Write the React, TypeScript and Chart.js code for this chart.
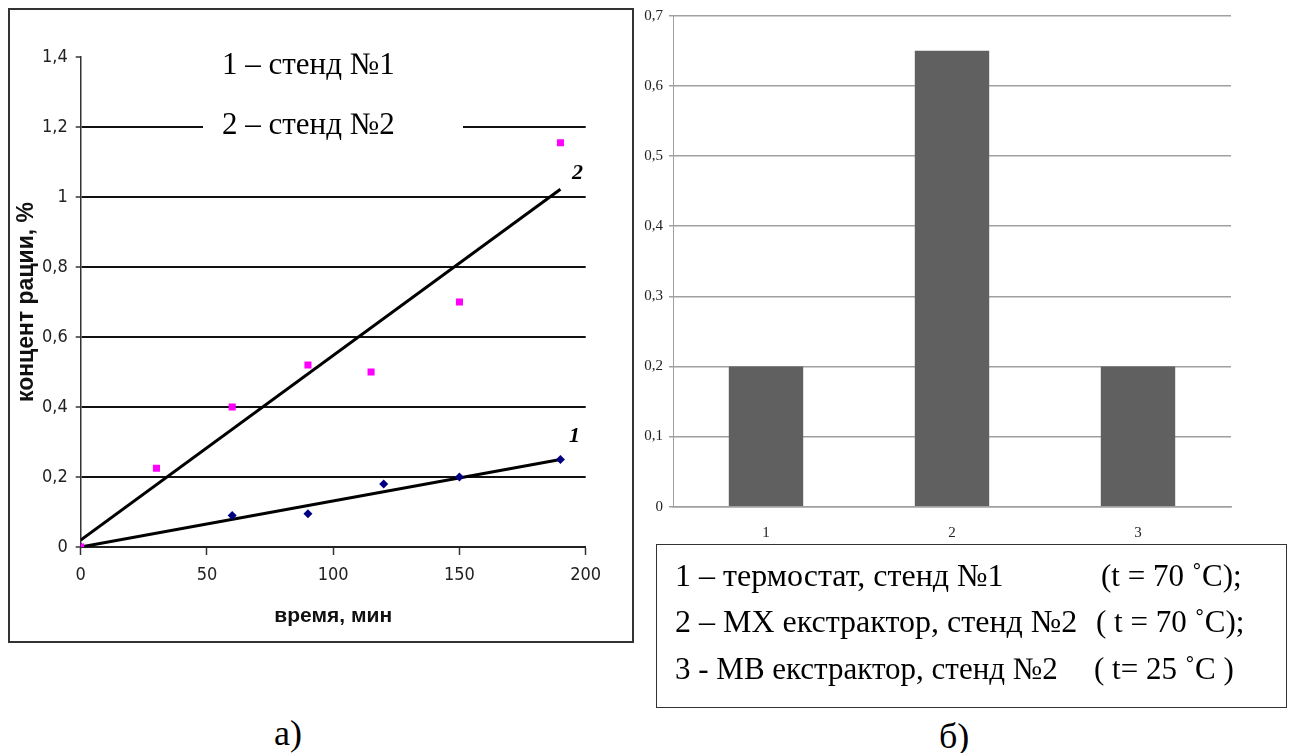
import React, { useEffect, useRef } from 'react';
import { Chart, registerables } from 'chart.js';

Chart.register(...registerables);

// ---- Left chart data (время, мин / концентрации, %) ----
const stand2Time = [0, 30, 60, 90, 115, 150, 190];
const stand2Conc = [0, 0.225, 0.4, 0.52, 0.5, 0.7, 1.155];
const stand1Time = [0, 60, 90, 120, 150, 190];
const stand1Conc = [0, 0.09, 0.095, 0.18, 0.2, 0.25];
const trendTime = [0, 190];
const trend1Conc = [0, 0.25];
const trend2Conc = [0.02, 1.022];
const leftXTicks = [0, 50, 100, 150, 200];
const leftYTicks = [0, 0.2, 0.4, 0.6, 0.8, 1, 1.2, 1.4];

// ---- Right chart data ----
const barCategories = ['1', '2', '3'];
const barValues = [0.2, 0.65, 0.2];
const rightYTicks = [0, 0.1, 0.2, 0.3, 0.4, 0.5, 0.6, 0.7];

const SERIF = "'Liberation Serif', 'Times New Roman', serif";
const SANS = "'Liberation Sans', Arial, sans-serif";

const fmt = (v: number) => {
  const r = Math.round(v * 10) / 10;
  return Number.isInteger(r) ? String(r) : String(r).replace('.', ',');
};

function pts(xs: number[], ys: number[]) {
  return xs.map((x, i) => ({ x, y: ys[i] }));
}

function fontAvailable(family: string) {
  const ctx = document.createElement('canvas').getContext('2d');
  if (!ctx) return false;
  const s = 'wmi0123456789,';
  ctx.font = '40px monospace';
  const a = ctx.measureText(s).width;
  ctx.font = `40px '${family}', monospace`;
  const b = ctx.measureText(s).width;
  ctx.font = '40px serif';
  const c = ctx.measureText(s).width;
  ctx.font = `40px '${family}', serif`;
  const d = ctx.measureText(s).width;
  return a !== b || c !== d;
}

function tickFont() {
  if (fontAvailable('Liberation Sans Narrow')) return { family: "'Liberation Sans Narrow'", size: 21 };
  if (fontAvailable('DejaVu Sans Condensed')) return { family: "'DejaVu Sans Condensed'", size: 18 };
  return { family: SANS, size: 17 };
}

function LeftChart() {
  const ref = useRef<HTMLCanvasElement | null>(null);
  useEffect(() => {
    if (!ref.current) return;
    const tf = tickFont();
    const chart = new Chart(ref.current, {
      type: 'scatter',
      data: {
        datasets: [
          {
            label: 'стенд №2',
            data: pts(stand2Time, stand2Conc),
            pointStyle: 'rect',
            pointRadius: 5,
            backgroundColor: '#ff00ff',
            borderColor: '#ff00ff',
            borderWidth: 0,
            showLine: false,
          },
          {
            label: 'стенд №1',
            data: pts(stand1Time, stand1Conc),
            pointStyle: 'rectRot',
            pointRadius: 4.5,
            backgroundColor: '#000080',
            borderColor: '#000080',
            borderWidth: 0,
            showLine: false,
          },
          {
            label: 'тренд 2',
            data: pts(trendTime, trend2Conc),
            showLine: true,
            pointRadius: 0,
            borderColor: '#000',
            borderWidth: 3,
          },
          {
            label: 'тренд 1',
            data: pts(trendTime, trend1Conc),
            showLine: true,
            pointRadius: 0,
            borderColor: '#000',
            borderWidth: 3,
          },
        ],
      },
      options: {
        animation: false,
        responsive: false,
        layout: { padding: { left: 0, right: 46.3, top: 47, bottom: 0 } },
        plugins: { legend: { display: false }, tooltip: { enabled: false } },
        scales: {
          x: {
            type: 'linear',
            min: leftXTicks[0],
            max: leftXTicks[leftXTicks.length - 1],
            afterBuildTicks: (s: any) => { s.ticks = leftXTicks.map((v) => ({ value: v })); },
            afterFit: (s: any) => { s.height = 94; },
            ticks: {
              font: tf,
              color: '#222',
              padding: 10,
              maxRotation: 0,
              callback: (v: any) => fmt(Number(v)),
            },
            grid: { drawOnChartArea: false, drawTicks: true, tickLength: 8, tickColor: '#333', tickWidth: 1.5 },
            border: { display: true, color: '#222', width: 2 },
            title: {
              display: true,
              text: 'время, мин',
              font: { family: SANS, size: 21, weight: 'bold' },
              color: '#111',
              padding: { top: 0, bottom: 12 },
            },
          },
          y: {
            type: 'linear',
            min: leftYTicks[0],
            max: leftYTicks[leftYTicks.length - 1],
            afterBuildTicks: (s: any) => { s.ticks = leftYTicks.map((v) => ({ value: v })); },
            afterFit: (s: any) => { s.width = 70.7; },
            ticks: {
              font: tf,
              color: '#222',
              padding: 8,
              callback: (v: any) => fmt(Number(v)),
            },
            grid: {
              color: (c: any) => (c.tick && Math.abs(c.tick.value - 1.4) < 1e-6 ? 'rgba(0,0,0,0)' : '#111'),
              lineWidth: 2,
              tickLength: 5,
              tickColor: '#333',
              tickWidth: 1.5,
            },
            border: { display: true, color: '#333', width: 1.5 },
            title: {
              display: true,
              text: 'концент рации, %',
              font: { family: SANS, size: 23, weight: 'bold' },
              color: '#111',
              padding: { top: 3, bottom: 0 },
            },
          },
        },
      },
    });
    return () => chart.destroy();
  }, []);
  return <canvas ref={ref} width={622} height={631} style={{ display: 'block', width: 622, height: 631 }} />;
}

function RightChart() {
  const ref = useRef<HTMLCanvasElement | null>(null);
  useEffect(() => {
    if (!ref.current) return;
    const chart = new Chart(ref.current, {
      type: 'bar',
      data: {
        labels: barCategories,
        datasets: [
          {
            label: 'концентрация',
            data: barValues,
            backgroundColor: '#606060',
            borderWidth: 0,
            barPercentage: 0.4,
            categoryPercentage: 1,
          },
        ],
      },
      options: {
        animation: false,
        responsive: false,
        layout: { padding: { left: 0, right: 62, top: 15.7, bottom: 0 } },
        plugins: { legend: { display: false }, tooltip: { enabled: false } },
        scales: {
          x: {
            afterFit: (s: any) => { s.height = 38.3; },
            ticks: { font: { family: SERIF, size: 15 }, color: '#222', padding: 17 },
            grid: { display: false, drawTicks: false },
            border: { display: true, color: '#a0a0a0', width: 1.5 },
          },
          y: {
            min: rightYTicks[0],
            max: rightYTicks[rightYTicks.length - 1],
            afterBuildTicks: (s: any) => { s.ticks = rightYTicks.map((v) => ({ value: v })); },
            afterFit: (s: any) => { s.width = 33; },
            ticks: { font: { family: SERIF, size: 15 }, color: '#222', padding: 6, callback: (v: any) => fmt(Number(v)) },
            grid: { color: '#a0a0a0', lineWidth: 1.5, tickLength: 4, tickColor: '#a0a0a0' },
            border: { display: true, color: '#a0a0a0', width: 1 },
          },
        },
      },
    });
    return () => chart.destroy();
  }, []);
  return <canvas ref={ref} width={653} height={545} style={{ display: 'block', width: 653, height: 545 }} />;
}

function T(props: { x: number; cy: number; size: number; children: React.ReactNode; style?: React.CSSProperties }) {
  return (
    <div
      style={{
        position: 'absolute',
        left: props.x,
        top: props.cy - props.size / 2,
        fontFamily: SERIF,
        fontSize: props.size,
        lineHeight: 1,
        whiteSpace: 'pre',
        color: '#000',
        ...props.style,
      }}
    >
      {props.children}
    </div>
  );
}

export default function App() {
  return (
    <div style={{ position: 'absolute', left: 0, top: 0, width: 1293, height: 753, background: '#fff', overflow: 'hidden' }}>
      {/* left framed chart */}
      <div style={{ position: 'absolute', left: 8, top: 8, width: 626, height: 635, boxSizing: 'border-box', border: '2px solid #333' }}>
        <LeftChart />
      </div>
      {/* white gap behind second legend line */}
      <div style={{ position: 'absolute', left: 203, top: 112, width: 260, height: 26, background: '#fff' }} />
      <T x={222} cy={63} size={31}>1 – стенд №1</T>
      <T x={222} cy={123} size={31}>2 – стенд №2</T>
      <T x={572} cy={172} size={22} style={{ fontWeight: 'bold', fontStyle: 'italic' }}>2</T>
      <T x={569} cy={435} size={22} style={{ fontWeight: 'bold', fontStyle: 'italic' }}>1</T>

      {/* right bar chart */}
      <div style={{ position: 'absolute', left: 640, top: 0 }}>
        <RightChart />
      </div>

      {/* legend box */}
      <div style={{ position: 'absolute', left: 656, top: 544, width: 631, height: 164, boxSizing: 'border-box', border: '1.5px solid #333' }} />
      <T x={675} cy={575} size={32}>1 – термостат, стенд №1</T>
      <T x={1101} cy={575} size={31}>(t = 70 ˚C);</T>
      <T x={675} cy={621} size={32}>2 – МХ екстрактор, стенд №2</T>
      <T x={1096} cy={621} size={31}>( t = 70 ˚C);</T>
      <T x={675} cy={668} size={31}>3 - МВ екстрактор, стенд №2</T>
      <T x={1094} cy={668} size={31}>( t= 25 ˚C )</T>

      {/* captions */}
      <T x={274} cy={733} size={36}>а)</T>
      <T x={939} cy={736} size={36}>б)</T>
    </div>
  );
}
